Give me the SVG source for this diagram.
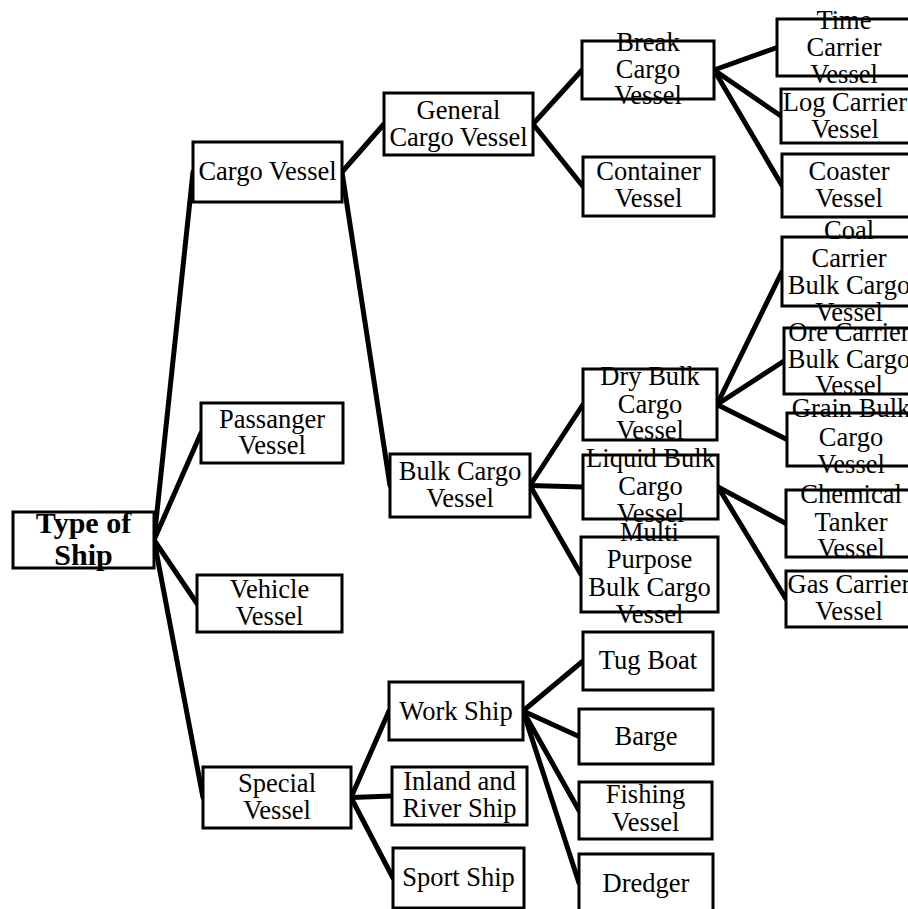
<svg xmlns="http://www.w3.org/2000/svg" width="908" height="909" viewBox="0 0 908 909">
<style>
.box{fill:#fff;stroke:#000;stroke-width:3}
.c line{stroke:#000;stroke-width:5;stroke-linecap:round}
text{font-family:"Liberation Serif","Times New Roman",serif;font-size:26.5px;fill:#000;text-anchor:middle}
.root text{font-weight:bold;font-size:30px}
</style>
<rect width="908" height="909" fill="#fff"/>
<g class="c" id="connectors">
<line x1="154" y1="540" x2="193" y2="172"/>
<line x1="154" y1="540" x2="201" y2="433"/>
<line x1="154" y1="540" x2="197" y2="603.5"/>
<line x1="154" y1="540" x2="203" y2="797.5"/>
<line x1="342" y1="172" x2="384" y2="124"/>
<line x1="342" y1="172" x2="390" y2="485.5"/>
<line x1="533" y1="124" x2="582" y2="70"/>
<line x1="533" y1="124" x2="583" y2="186.5"/>
<line x1="714" y1="70" x2="777" y2="47.5"/>
<line x1="714" y1="70" x2="781" y2="116"/>
<line x1="714" y1="70" x2="782" y2="185.5"/>
<line x1="530" y1="485.5" x2="583" y2="404.5"/>
<line x1="530" y1="485.5" x2="583" y2="487"/>
<line x1="530" y1="485.5" x2="581" y2="574.5"/>
<line x1="717" y1="404.5" x2="782" y2="271.5"/>
<line x1="717" y1="404.5" x2="784" y2="361"/>
<line x1="717" y1="404.5" x2="787" y2="439.5"/>
<line x1="718" y1="487" x2="786" y2="523.5"/>
<line x1="718" y1="487" x2="786" y2="599"/>
<line x1="351" y1="797.5" x2="389" y2="711"/>
<line x1="351" y1="797.5" x2="392" y2="796"/>
<line x1="351" y1="797.5" x2="393" y2="878"/>
<line x1="523" y1="711" x2="583" y2="661"/>
<line x1="523" y1="711" x2="579" y2="736.5"/>
<line x1="523" y1="711" x2="579" y2="810.5"/>
<line x1="523" y1="711" x2="579" y2="883"/>
</g>
<g id="type-of-ship" class="root"><rect class="box" x="13" y="512" width="141" height="56"/><text x="83.5" y="533">Type of</text><text x="83.5" y="565">Ship</text></g>
<g id="cargo-vessel"><rect class="box" x="193" y="142" width="149" height="60"/><text x="267.5" y="180">Cargo Vessel</text></g>
<g id="passanger-vessel"><rect class="box" x="201" y="403" width="142" height="60"/><text x="272" y="428">Passanger</text><text x="272" y="454">Vessel</text></g>
<g id="vehicle-vessel"><rect class="box" x="197" y="575" width="145" height="57"/><text x="269.5" y="598">Vehicle</text><text x="269.5" y="625">Vessel</text></g>
<g id="special-vessel"><rect class="box" x="203" y="767" width="148" height="61"/><text x="277" y="792">Special</text><text x="277" y="819">Vessel</text></g>
<g id="general-cargo-vessel"><rect class="box" x="384" y="93" width="149" height="62"/><text x="458.5" y="119">General</text><text x="458.5" y="146">Cargo Vessel</text></g>
<g id="bulk-cargo-vessel"><rect class="box" x="390" y="454" width="140" height="63"/><text x="460" y="480">Bulk Cargo</text><text x="460" y="507">Vessel</text></g>
<g id="break-cargo-vessel"><rect class="box" x="582" y="41" width="132" height="58"/><text x="648" y="51">Break</text><text x="648" y="77.5">Cargo</text><text x="648" y="104">Vessel</text></g>
<g id="container-vessel"><rect class="box" x="583" y="157" width="131" height="59"/><text x="648.5" y="180">Container</text><text x="648.5" y="207">Vessel</text></g>
<g id="time-carrier-vessel"><rect class="box" x="777" y="19" width="134" height="57"/><text x="844" y="29">Time</text><text x="844" y="56">Carrier</text><text x="844" y="83">Vessel</text></g>
<g id="log-carrier-vessel"><rect class="box" x="781" y="89" width="134" height="54"/><text x="845" y="111">Log Carrier</text><text x="845" y="138">Vessel</text></g>
<g id="coaster-vessel"><rect class="box" x="782" y="154" width="134" height="63"/><text x="849" y="180">Coaster</text><text x="849" y="207">Vessel</text></g>
<g id="dry-bulk-cargo-vessel"><rect class="box" x="583" y="369" width="134" height="71"/><text x="650" y="385">Dry Bulk</text><text x="650" y="413">Cargo</text><text x="650" y="439">Vessel</text></g>
<g id="liquid-bulk-cargo-vessel"><rect class="box" x="583" y="455" width="135" height="64"/><text x="650.5" y="467">Liquid Bulk</text><text x="650.5" y="494.5">Cargo</text><text x="650.5" y="522">Vessel</text></g>
<g id="multi-purpose-bulk-cargo-vessel"><rect class="box" x="581" y="537" width="137" height="75"/><text x="649.5" y="541">Multi</text><text x="649.5" y="568">Purpose</text><text x="649.5" y="595.5">Bulk Cargo</text><text x="649.5" y="623">Vessel</text></g>
<g id="coal-carrier-bulk-cargo-vessel"><rect class="box" x="782" y="237" width="134" height="69"/><text x="849" y="239">Coal</text><text x="849" y="266.5">Carrier</text><text x="849" y="294">Bulk Cargo</text><text x="849" y="321">Vessel</text></g>
<g id="ore-carrier-bulk-cargo-vessel"><rect class="box" x="784" y="328" width="134" height="66"/><text x="849" y="341">Ore Carrier</text><text x="849" y="368">Bulk Cargo</text><text x="849" y="394">Vessel</text></g>
<g id="grain-bulk-cargo-vessel"><rect class="box" x="787" y="413" width="134" height="53"/><text x="851" y="417">Grain Bulk</text><text x="851" y="446">Cargo</text><text x="851" y="473">Vessel</text></g>
<g id="chemical-tanker-vessel"><rect class="box" x="786" y="490" width="134" height="67"/><text x="851" y="503">Chemical</text><text x="851" y="531">Tanker</text><text x="851" y="557">Vessel</text></g>
<g id="gas-carrier-vessel"><rect class="box" x="786" y="571" width="134" height="56"/><text x="849" y="593">Gas Carrier</text><text x="849" y="620">Vessel</text></g>
<g id="work-ship"><rect class="box" x="389" y="682" width="134" height="58"/><text x="456" y="720">Work Ship</text></g>
<g id="inland-and-river-ship"><rect class="box" x="392" y="767" width="135" height="58"/><text x="459.5" y="790">Inland and</text><text x="459.5" y="817">River Ship</text></g>
<g id="sport-ship"><rect class="box" x="393" y="848" width="131" height="60"/><text x="458.5" y="886">Sport Ship</text></g>
<g id="tug-boat"><rect class="box" x="583" y="632" width="130" height="58"/><text x="648" y="669">Tug Boat</text></g>
<g id="barge"><rect class="box" x="579" y="709" width="134" height="55"/><text x="646" y="745">Barge</text></g>
<g id="fishing-vessel"><rect class="box" x="579" y="782" width="133" height="57"/><text x="645.5" y="803">Fishing</text><text x="645.5" y="831">Vessel</text></g>
<g id="dredger"><rect class="box" x="579" y="854" width="134" height="60"/><text x="646" y="892">Dredger</text></g>
</svg>
